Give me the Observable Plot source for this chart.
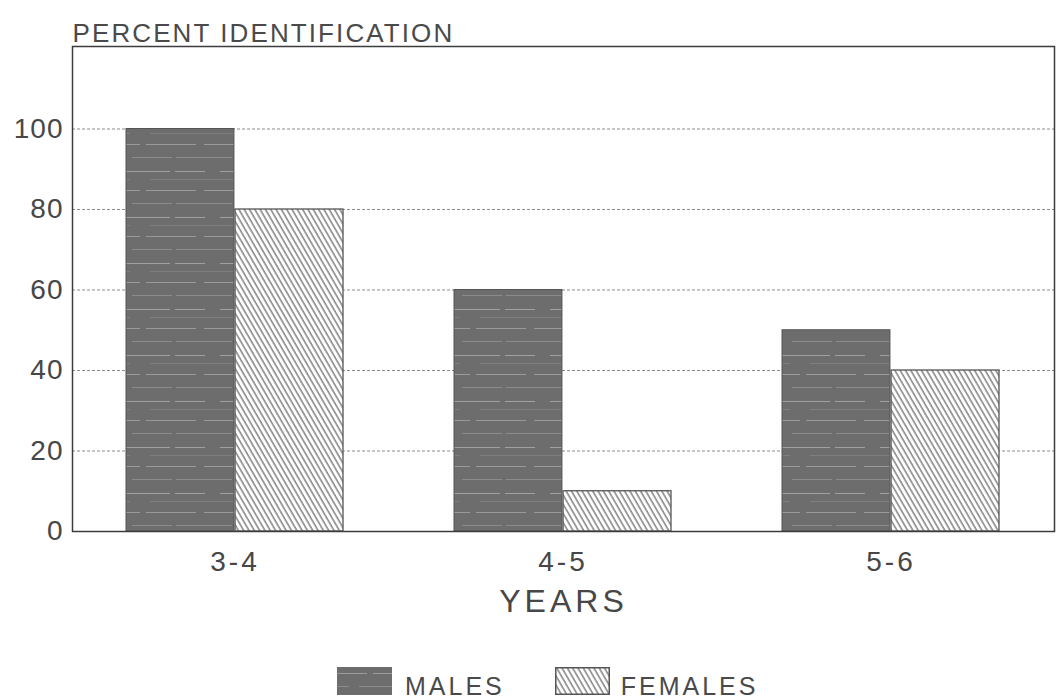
<!DOCTYPE html>
<html><head><meta charset="utf-8">
<script src="https://cdn.jsdelivr.net/npm/d3@7"></script>
<script src="https://cdn.jsdelivr.net/npm/@observablehq/plot@0.6"></script>
<style>
body{margin:0;background:#fff;font-family:"Liberation Sans",Arial,sans-serif;}
#wrap{position:relative;width:1060px;height:699px;overflow:hidden;}
#legend{position:absolute;top:667px;left:337px;display:flex;align-items:flex-start;color:#4a4a4a;font-size:25px;letter-spacing:3px;line-height:0.9;}
#legend .item{display:flex;align-items:flex-start;}
#legend svg{display:block;}
#legend span{margin-top:8px;}
</style>
</head><body>
<svg width="0" height="0" style="position:absolute">
<defs>
<pattern id="hatch" patternUnits="userSpaceOnUse" width="4.6" height="20" patternTransform="rotate(-30)">
<rect width="4.6" height="20" fill="#fff"/>
<line x1="1" y1="0" x2="1" y2="20" stroke="#555" stroke-width="1.1"/>
</pattern>
<pattern id="stipple" patternUnits="userSpaceOnUse" width="110" height="46">
<rect width="110" height="46" fill="#6d6d6d"/>
<line x1="0" y1="6.5" x2="110" y2="6.5" stroke="#9a9a9a" stroke-width="1" stroke-dasharray="30,6,50,8,16"/>
<line x1="0" y1="19.5" x2="110" y2="19.5" stroke="#8c8c8c" stroke-width="1" stroke-dasharray="12,10,40,4,44"/>
<line x1="0" y1="33.5" x2="110" y2="33.5" stroke="#a0a0a0" stroke-width="1" stroke-dasharray="60,5,30,15"/>
<line x1="0" y1="41.5" x2="110" y2="41.5" stroke="#7e7e7e" stroke-width="1" stroke-dasharray="20,20,70"/>
</pattern>
</defs></svg>
<div id="wrap">
<div id="chart"></div>
<div id="legend">
  <div class="item" style="margin-right:50px"><svg width="55" height="28" style="margin-right:13px"><rect x="0" y="0" width="55" height="28" fill="url(#stipple)"/></svg><span>MALES</span></div>
  <div class="item"><svg width="55" height="28" style="margin-right:11px"><rect x="0.75" y="0.75" width="53.5" height="26.5" fill="url(#hatch)" stroke="#555" stroke-width="1.5"/></svg><span>FEMALES</span></div>
</div>
</div>
<script>
const groups = ["3-4", "4-5", "5-6"];
const males = [100, 60, 50];
const females = [80, 10, 40];
const yTicks = [0, 20, 40, 60, 80, 100];
const seriesNames = ["MALES", "FEMALES"];
const xTitle = "YEARS";
const yTitle = "PERCENT IDENTIFICATION";

const data = [];
groups.forEach((g, i) => {
  data.push({group: g, series: seriesNames[0], value: males[i]});
  data.push({group: g, series: seriesNames[1], value: females[i]});
});

const paddingInner = 0.337, paddingOuter = 0.161;
const innerW = 1060 - 72 - 6;
const step = innerW / (groups.length - paddingInner + 2 * paddingOuter);
const half = step * (1 - paddingInner) / 2;

const chart = Plot.plot({
  width: 1060,
  height: 660,
  marginLeft: 72,
  marginRight: 6,
  marginTop: 46,
  marginBottom: 129,
  style: {fontFamily: "'Liberation Sans', Arial, sans-serif", color: "#474747", background: "#fff"},
  x: {domain: groups, paddingInner, paddingOuter, label: null},
  y: {domain: [0, 120.5], label: null},
  marks: [
    Plot.ruleY(yTicks.filter(d => d > 0), {stroke: "#8a8a8a", strokeWidth: 1, strokeDasharray: "3,2"}),
    Plot.barY(data.filter(d => d.series === seriesNames[0]), {x: "group", y: "value", fill: "url(#stipple)", stroke: "#555", strokeWidth: 1, insetRight: half}),
    Plot.barY(data.filter(d => d.series === seriesNames[1]), {x: "group", y: "value", fill: "url(#hatch)", stroke: "#555", strokeWidth: 1.3, insetLeft: half}),
    Plot.frame({stroke: "#3c3c3c", strokeWidth: 1.5}),
    Plot.axisY({ticks: yTicks, tickSize: 0, tickPadding: 9, fontSize: 28, label: null}),
    Plot.axisX({tickSize: 0, tickPadding: 20, fontSize: 28, label: null}),
    Plot.text([xTitle], {frameAnchor: "bottom", dy: 80, fontSize: 32, fill: "#474747"}),
    Plot.text([yTitle], {frameAnchor: "top-left", textAnchor: "start", dy: -23, dx: 0, fontSize: 26, fill: "#4a4a4a"})
  ]
});
const s = d3.select(chart);
s.selectAll('[aria-label="y-axis tick label"] text').style("letter-spacing", "1px");
s.selectAll('[aria-label="x-axis tick label"] text').style("letter-spacing", "3px");
s.selectAll("text").each(function() {
  const t = this.textContent;
  if (t === xTitle) d3.select(this).style("letter-spacing", "4px");
  if (t === yTitle) d3.select(this).style("letter-spacing", "2.1px");
});
document.getElementById("chart").appendChild(chart);
</script>
</body></html>
